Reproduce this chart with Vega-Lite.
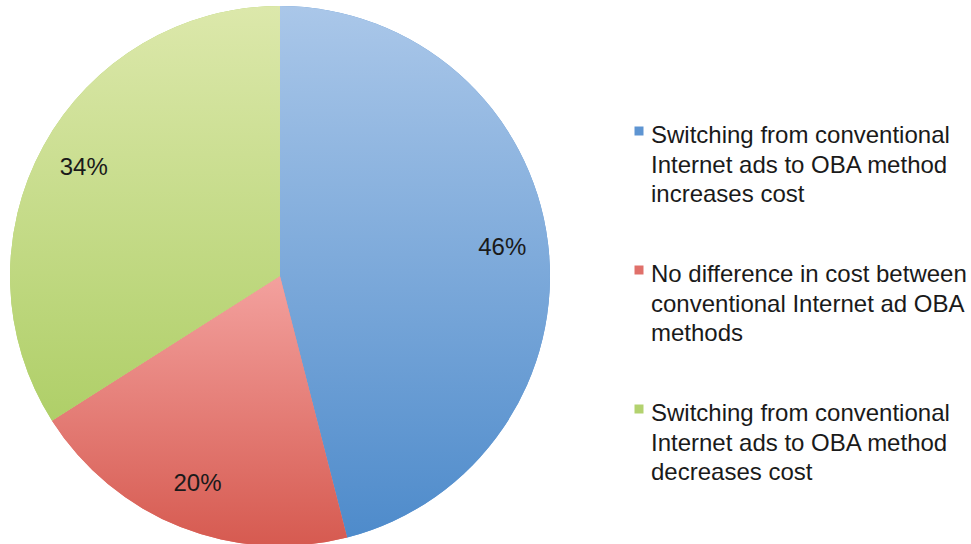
{
  "$schema": "https://vega.github.io/schema/vega-lite/v6.json",
  "width": 540,
  "height": 540,
  "padding": {"left": 10, "top": 6, "right": 0, "bottom": 0},
  "background": "white",
  "config": {"view": {"stroke": null}, "font": "Liberation Sans"},
  "data": {
    "values": [
      {"cat": "Switching from conventional|Internet ads to OBA method|increases cost", "value": 46, "label": "46%", "k": 1},
      {"cat": "No difference in cost between|conventional Internet ad OBA|methods", "value": 20, "label": "20%", "k": 2},
      {"cat": "Switching from conventional|Internet ads to OBA method|decreases cost", "value": 34, "label": "34%", "k": 3}
    ]
  },
  "encoding": {
    "theta": {"field": "value", "type": "quantitative", "stack": true},
    "order": {"field": "k", "type": "quantitative"}
  },
  "layer": [
    {
      "mark": {"type": "arc"},
      "encoding": {
        "color": {
          "field": "cat",
          "type": "nominal",
          "sort": null,
          "scale": {
            "domain": [
              "Switching from conventional|Internet ads to OBA method|increases cost",
              "No difference in cost between|conventional Internet ad OBA|methods",
              "Switching from conventional|Internet ads to OBA method|decreases cost"
            ],
            "range": ["#5e95d2", "#e0706a", "#b3d26f"]
          },
          "legend": {
            "title": null,
            "orient": "none",
            "legendX": 617,
            "legendY": 113,
            "symbolType": "square",
            "symbolSize": 81,
            "symbolStrokeWidth": 0,
            "labelExpr": "split(datum.label, '|')",
            "labelFontSize": 24,
            "labelFont": "Liberation Sans",
            "labelColor": "#1a1a1a",
            "labelLimit": 500,
            "labelBaseline": "top",
            "labelOffset": 0,
            "rowPadding": 51,
            "encode": {"labels": {"update": {"lineHeight": {"value": 29.5}, "dy": {"value": -7}}}}
          }
        }
      }
    },
    {
      "mark": {"type": "arc"},
      "encoding": {
        "fill": {
          "condition": [
            {"test": "datum.k == 1", "value": {"gradient": "linear", "x1": 0, "y1": 0, "x2": 0, "y2": 1, "stops": [{"offset": 0, "color": "#aac7e9"}, {"offset": 1, "color": "#4e8bcb"}]}},
            {"test": "datum.k == 2", "value": {"gradient": "linear", "x1": 0, "y1": 0, "x2": 0, "y2": 1, "stops": [{"offset": 0, "color": "#f3a19e"}, {"offset": 1, "color": "#d65a50"}]}}
          ],
          "value": {"gradient": "linear", "x1": 0, "y1": 0, "x2": 0, "y2": 1, "stops": [{"offset": 0, "color": "#dce8ab"}, {"offset": 1, "color": "#afcf68"}]}
        }
      }
    },
    {
      "mark": {"type": "text", "radius": 224, "fontSize": 24, "font": "Liberation Sans", "color": "#1a1a1a"},
      "encoding": {"text": {"field": "label", "type": "nominal"}}
    }
  ]
}
